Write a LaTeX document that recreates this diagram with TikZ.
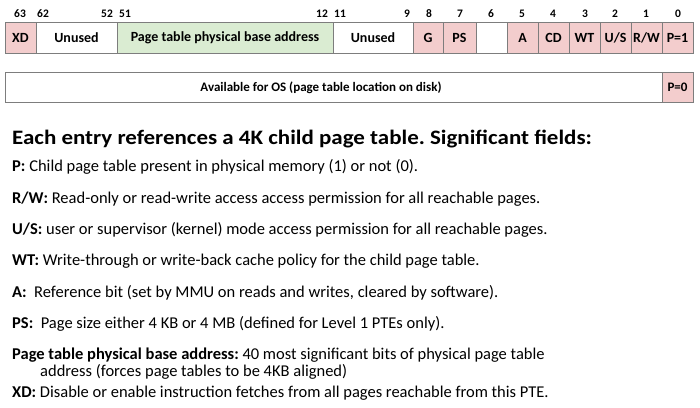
\documentclass[tikz,border=0pt]{standalone}
\usepackage{fontspec}
\setmainfont{Carlito}
\newfontfamily\headfont[FakeStretch=1.12]{Carlito}
\frenchspacing
\definecolor{flagpink}{RGB}{243,205,205}
\definecolor{addrgreen}{RGB}{218,236,210}
\definecolor{cellgray}{RGB}{125,125,125}
\begin{document}
\begin{tikzpicture}[x=1pt,y=-1pt,
    cell/.style={draw=cellgray, line width=0.8pt, minimum height=31pt, inner sep=0pt, font=\fontsize{14}{15}\selectfont\bfseries},
    flag/.style={cell, fill=flagpink},
    bitnum/.style={inner sep=0pt, font=\fontsize{11.5}{12}\selectfont\bfseries},
    line/.style={anchor=west, inner sep=0pt, font=\fontsize{16.5}{18}\selectfont}]
    \useasboundingbox (0,0) rectangle (700,407);

    % bit fields of the entry
    \node[flag, minimum width=31pt] (xd) at (20.5,37.5) {XD};
    \node[cell, minimum width=81pt] (unused1) at (76.5,37.5) {Unused};
    \node[cell, fill=addrgreen, minimum width=216pt] (base) at (225,37.5) {Page table physical base address};
    \node[cell, minimum width=80pt] (unused2) at (373,37.5) {Unused};
    \node[flag, minimum width=30pt] (g) at (428,37.5) {G};
    \node[flag, minimum width=33pt] (ps) at (459.5,37.5) {PS};
    \node[cell, minimum width=31pt] (bit6) at (491.5,37.5) {};
    \node[flag, minimum width=31pt] (a) at (522.5,37.5) {A};
    \node[flag, minimum width=31pt] (cd) at (553.5,37.5) {CD};
    \node[flag, minimum width=31pt] (wt) at (584.5,37.5) {WT};
    \node[flag, minimum width=31pt] (us) at (615.5,37.5) {U/S};
    \node[flag, minimum width=31pt] (rw) at (646.5,37.5) {R/W};
    \node[flag, minimum width=31pt] (p1) at (677.5,37.5) {P=1};

    % bit numbers
    \node[bitnum] (n63) at (20,14) {63};
    \node[bitnum] (n62) at (43,14) {62};
    \node[bitnum] (n52) at (107,14) {52};
    \node[bitnum] (n51) at (125,14) {51};
    \node[bitnum] (n12) at (322,14) {12};
    \node[bitnum] (n11) at (340,14) {11};
    \node[bitnum] (n9) at (407,14) {9};
    \node[bitnum] (n8) at (429,14) {8};
    \node[bitnum] (n7) at (460,14) {7};
    \node[bitnum] (n6) at (491,14) {6};
    \node[bitnum] (n5) at (522,14) {5};
    \node[bitnum] (n4) at (553,14) {4};
    \node[bitnum] (n3) at (585,14) {3};
    \node[bitnum] (n2) at (615,14) {2};
    \node[bitnum] (n1) at (646,14) {1};
    \node[bitnum] (n0) at (678,14) {0};

    % entry when not present
    \node[cell, minimum width=657pt, minimum height=30pt] (os) at (333.5,87.5) {};
    \node[inner sep=0pt, font=\fontsize{13}{14}\selectfont\bfseries] (oslabel) at (321,87.5) {Available for OS (page table location on disk)};
    \node[flag, minimum width=31pt, minimum height=30pt, font=\fontsize{13}{14}\selectfont\bfseries] (p0) at (677.5,87.5) {P=0};

    % field descriptions
    \node[line, font=\fontsize{20.5}{22}\headfont\bfseries] (head) at (12,139) {Each entry references a 4K child page table. Significant fields:};
    \node[line] (dp) at (12,167) {\textbf{P:} Child page table present in physical memory (1) or not (0).};
    \node[line] (drw) at (12,199) {\textbf{R/W:} Read-only or read-write access access permission for all reachable pages.};
    \node[line] (dus) at (12,230) {\textbf{U/S:} user or supervisor (kernel) mode access permission for all reachable pages.};
    \node[line] (dwt) at (12,261) {\textbf{WT:} Write-through or write-back cache policy for the child page table.};
    \node[line] (da) at (12,293) {\textbf{A:}\ \ Reference bit (set by MMU on reads and writes, cleared by software).};
    \node[line] (dps) at (12,324) {\textbf{PS:}\ \ Page size either 4 KB or 4 MB (defined for Level 1 PTEs only).};
    \node[line] (dbase) at (12,355) {\textbf{Page table physical base address:} 40 most significant bits of physical page table};
    \node[line] (dbase2) at (40,372) {address (forces page tables to be 4KB aligned)};
    \node[line] (dxd) at (12,393) {\textbf{XD:} Disable or enable instruction fetches from all pages reachable from this PTE.};
\end{tikzpicture}
\end{document}
